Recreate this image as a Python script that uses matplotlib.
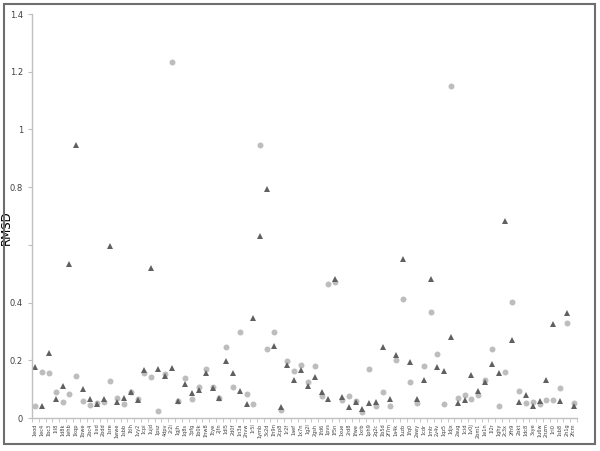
import numpy as np
import matplotlib.pyplot as plt
from matplotlib.patches import Rectangle

# PDB-like structure ids along the x axis (too small to read in the original)
ids = ['1eod', '1ec4', '1bc3', '1il8', '1d8k', '1ehb', '1kqp', '1bwe', '2bc4', '1ixd',
       '2bdd', '1sre', '1wwe', '1sbb', '1tlh', '1vy2', '1cpi', '1ujd', '1psz', '4dpv',
       '2r2i', '1gjh', '1q8s', '3pfg', '1b0k', '1hw8', '1tye', '2jfn', '1dl5', '2d0f',
       '1n3a', '2hvw', '1r5l', '1ymb', '3k2d', '1h9n', '2cp8', '1r2f', '1aef', '1x7n',
       '1g2l', '2gsh', '1fd6', '1pvs', '1f5n', '1xue', '2rd8', '1fwe', '1xrb', '1ph9',
       '2q2c', '1b5d', '2f7m', '1a4k', '1uzb', '1fq0', '2awy', '1cdr', '1mtr', '2v4v',
       '1qz5', '1djx', '2aug', '1cid', '1v0j', '2bm1', '1e1n', '1l2r', '1ghy', '2c3x',
       '2fh9', '2bkt', '1dc8', '3sye', '1u6w', '2nzm', '1ri0', '1sb8', '2h1g', '2fcm']

# series
rmsd_tri = [0.176, 0.042, 0.224, 0.066, 0.111, 0.534, 0.945, 0.102, 0.067, 0.050,
            0.065, 0.595, 0.054, 0.070, 0.089, 0.061, 0.167, 0.521, 0.169, 0.146,
            0.173, 0.058, 0.119, 0.087, 0.096, 0.155, 0.103, 0.068, 0.199, 0.155,
            0.092, 0.047, 0.348, 0.632, 0.792, 0.251, 0.039, 0.184, 0.133, 0.166,
            0.112, 0.143, 0.090, 0.065, 0.482, 0.074, 0.037, 0.057, 0.032, 0.053,
            0.056, 0.245, 0.065, 0.219, 0.550, 0.193, 0.067, 0.132, 0.480, 0.177,
            0.164, 0.280, 0.053, 0.064, 0.150, 0.095, 0.125, 0.188, 0.157, 0.683,
            0.269, 0.055, 0.080, 0.040, 0.058, 0.132, 0.325, 0.058, 0.364, 0.040]

rmsd_circ = [0.042, 0.160, 0.155, 0.089, 0.054, 0.083, 0.145, 0.059, 0.044, 0.053,
             0.057, 0.128, 0.068, 0.048, 0.091, 0.066, 0.157, 0.142, 0.025, 0.151,
             1.235, 0.059, 0.140, 0.066, 0.107, 0.169, 0.107, 0.068, 0.247, 0.107,
             0.299, 0.083, 0.047, 0.945, 0.238, 0.297, 0.028, 0.199, 0.164, 0.183,
             0.124, 0.179, 0.076, 0.463, 0.471, 0.062, 0.077, 0.060, 0.020, 0.170,
             0.040, 0.091, 0.040, 0.200, 0.412, 0.125, 0.051, 0.180, 0.366, 0.223,
             0.048, 1.150, 0.068, 0.080, 0.066, 0.081, 0.132, 0.240, 0.043, 0.159,
             0.401, 0.092, 0.052, 0.054, 0.050, 0.062, 0.064, 0.103, 0.330, 0.052]

# the 0.6 label is covered by the axis title in the original, so it is left blank
ytick_labels = ['0', '0.2', '0.4', '', '0.8', '1', '1.2', '1.4']

x = np.arange(len(ids))

fig = plt.figure(figsize=(6, 4.51), dpi=100)
ax = fig.add_axes([32/600, 33/451, 545/600, 404/451])

ax.plot(x, rmsd_circ, 'o', color='#bdbdbd', markersize=4.3, markeredgewidth=0)
ax.plot(x, rmsd_tri, '^', color='#606060', markersize=4.5, markeredgewidth=0)

ax.set_xlim(-0.5, len(ids) - 0.5)
ax.set_ylim(0, 1.4)
ax.set_yticks(np.arange(0, 1.41, 0.2))
ax.set_yticklabels(ytick_labels)
ax.set_xticks(x)
ax.set_xticklabels(ids, rotation=90, fontsize=3.6, color='#404040')
ax.set_xticks(np.arange(-0.5, len(ids), 1), minor=True)
ax.tick_params(axis='x', which='major', length=0, pad=4)
ax.tick_params(axis='x', which='minor', length=3, color='#bfbfbf', direction='out')
ax.tick_params(axis='y', length=3, color='#bfbfbf', labelsize=6, labelcolor='#404040')

for s in ['top', 'right']:
    ax.spines[s].set_visible(False)
for s in ['left', 'bottom']:
    ax.spines[s].set_color('#bfbfbf')
    ax.spines[s].set_linewidth(1.0)

ax.set_ylabel('RMSD', fontsize=8.5)
ax.yaxis.set_label_coords(-19/545, 0.47)

# chart area border
fig.patches.append(Rectangle((4/600, 7/451), 591/600, 440/451, transform=fig.transFigure,
                             fill=False, edgecolor='#6e6e6e', linewidth=1.5))

fig.savefig('out.png', dpi=100)
